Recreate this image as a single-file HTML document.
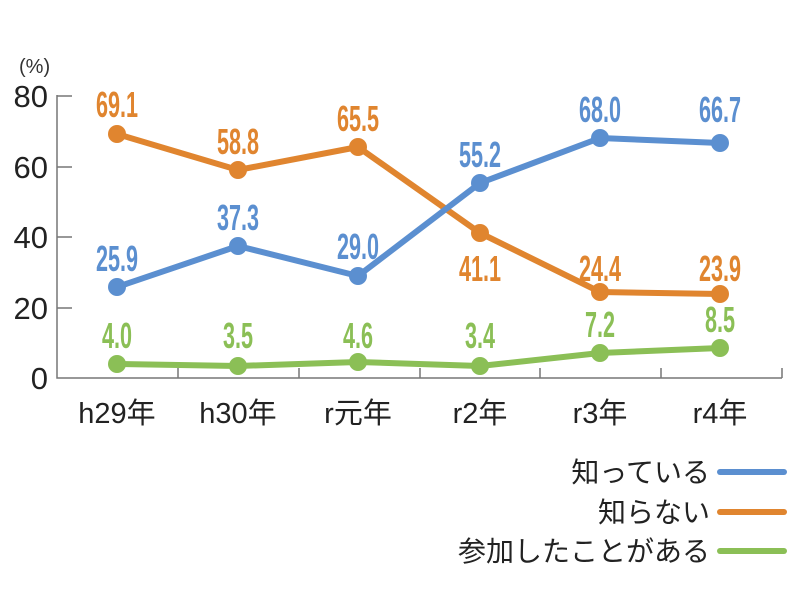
<!DOCTYPE html>
<html><head><meta charset="utf-8"><style>
html,body{margin:0;padding:0;background:#fff;}
svg text{font-family:"Liberation Sans","Noto Sans CJK JP",sans-serif;}
.v{font-family:"Liberation Sans",sans-serif;font-weight:bold;font-size:36px;}
</style></head><body>
<svg width="800" height="600" xmlns="http://www.w3.org/2000/svg">
<g stroke="#777" stroke-width="1.5" fill="none">
<path d="M57,95 V378 H782"/>
<path d="M57,96 H72 M57,167 H72 M57,237 H72 M57,308 H72"/>
<path d="M178,378 V368 M299,378 V368 M420,378 V368 M540,378 V368 M661,378 V368 M782,378 V368"/>
</g>
<g font-size="31" fill="#222" text-anchor="end">
<text x="48" y="107">80</text><text x="48" y="178">60</text><text x="48" y="248">40</text><text x="48" y="319">20</text><text x="48" y="389">0</text>
</g>
<text x="19" y="73" font-size="20" fill="#333">(%)</text>
<g font-size="29" fill="#222" text-anchor="middle">
<text x="117" y="423">h29年</text><text x="238" y="423">h30年</text><text x="358" y="423">r元年</text><text x="480" y="423">r2年</text><text x="600" y="423">r3年</text><text x="720" y="423">r4年</text>
</g>
<g fill="none" stroke-width="6" stroke-linejoin="round">
<polyline stroke="#e0852f" points="117,134 238,170 358,147 480,233 600,292 720,294"/>
<polyline stroke="#5b8fd0" points="117,287 238,246 358,276 480,183 600,138 720,143"/>
<polyline stroke="#8bbf56" points="117,364 238,366 358,362 480,366 600,353 720,348"/>
</g>
<g fill="#e0852f"><circle cx="117" cy="134" r="9"/><circle cx="238" cy="170" r="9"/><circle cx="358" cy="147" r="9"/><circle cx="480" cy="233" r="9"/><circle cx="600" cy="292" r="9"/><circle cx="720" cy="294" r="9"/></g>
<g fill="#5b8fd0"><circle cx="117" cy="287" r="9"/><circle cx="238" cy="246" r="9"/><circle cx="358" cy="276" r="9"/><circle cx="480" cy="183" r="9"/><circle cx="600" cy="138" r="9"/><circle cx="720" cy="143" r="9"/></g>
<g fill="#8bbf56"><circle cx="117" cy="364" r="9"/><circle cx="238" cy="366" r="9"/><circle cx="358" cy="362" r="9"/><circle cx="480" cy="366" r="9"/><circle cx="600" cy="353" r="9"/><circle cx="720" cy="348" r="9"/></g>
<g class="v" text-anchor="middle">
<g fill="#e0852f">
<text transform="translate(117,117) scale(0.6,1)">69.1</text>
<text transform="translate(238,154) scale(0.6,1)">58.8</text>
<text transform="translate(358,131) scale(0.6,1)">65.5</text>
<text transform="translate(480,281) scale(0.6,1)">41.1</text>
<text transform="translate(600,281) scale(0.6,1)">24.4</text>
<text transform="translate(720,281) scale(0.6,1)">23.9</text>
</g>
<g fill="#5b8fd0">
<text transform="translate(117,271) scale(0.6,1)">25.9</text>
<text transform="translate(238,230) scale(0.6,1)">37.3</text>
<text transform="translate(358,259) scale(0.6,1)">29.0</text>
<text transform="translate(480,167) scale(0.6,1)">55.2</text>
<text transform="translate(600,122) scale(0.6,1)">68.0</text>
<text transform="translate(720,122) scale(0.6,1)">66.7</text>
</g>
<g fill="#8bbf56">
<text transform="translate(117,348) scale(0.6,1)">4.0</text>
<text transform="translate(238,348) scale(0.6,1)">3.5</text>
<text transform="translate(358,348) scale(0.6,1)">4.6</text>
<text transform="translate(480,348) scale(0.6,1)">3.4</text>
<text transform="translate(600,337) scale(0.6,1)">7.2</text>
<text transform="translate(720,332) scale(0.6,1)">8.5</text>
</g>
</g>
<g font-size="28" fill="#222" text-anchor="end">
<text x="710" y="482">知っている</text>
<text x="710" y="522">知らない</text>
<text x="710" y="561">参加したことがある</text>
</g>
<g stroke-width="6" stroke-linecap="round">
<line x1="720" y1="472" x2="784" y2="472" stroke="#5b8fd0"/>
<line x1="720" y1="512" x2="784" y2="512" stroke="#e0852f"/>
<line x1="720" y1="551" x2="784" y2="551" stroke="#8bbf56"/>
</g>
</svg>
</body></html>
